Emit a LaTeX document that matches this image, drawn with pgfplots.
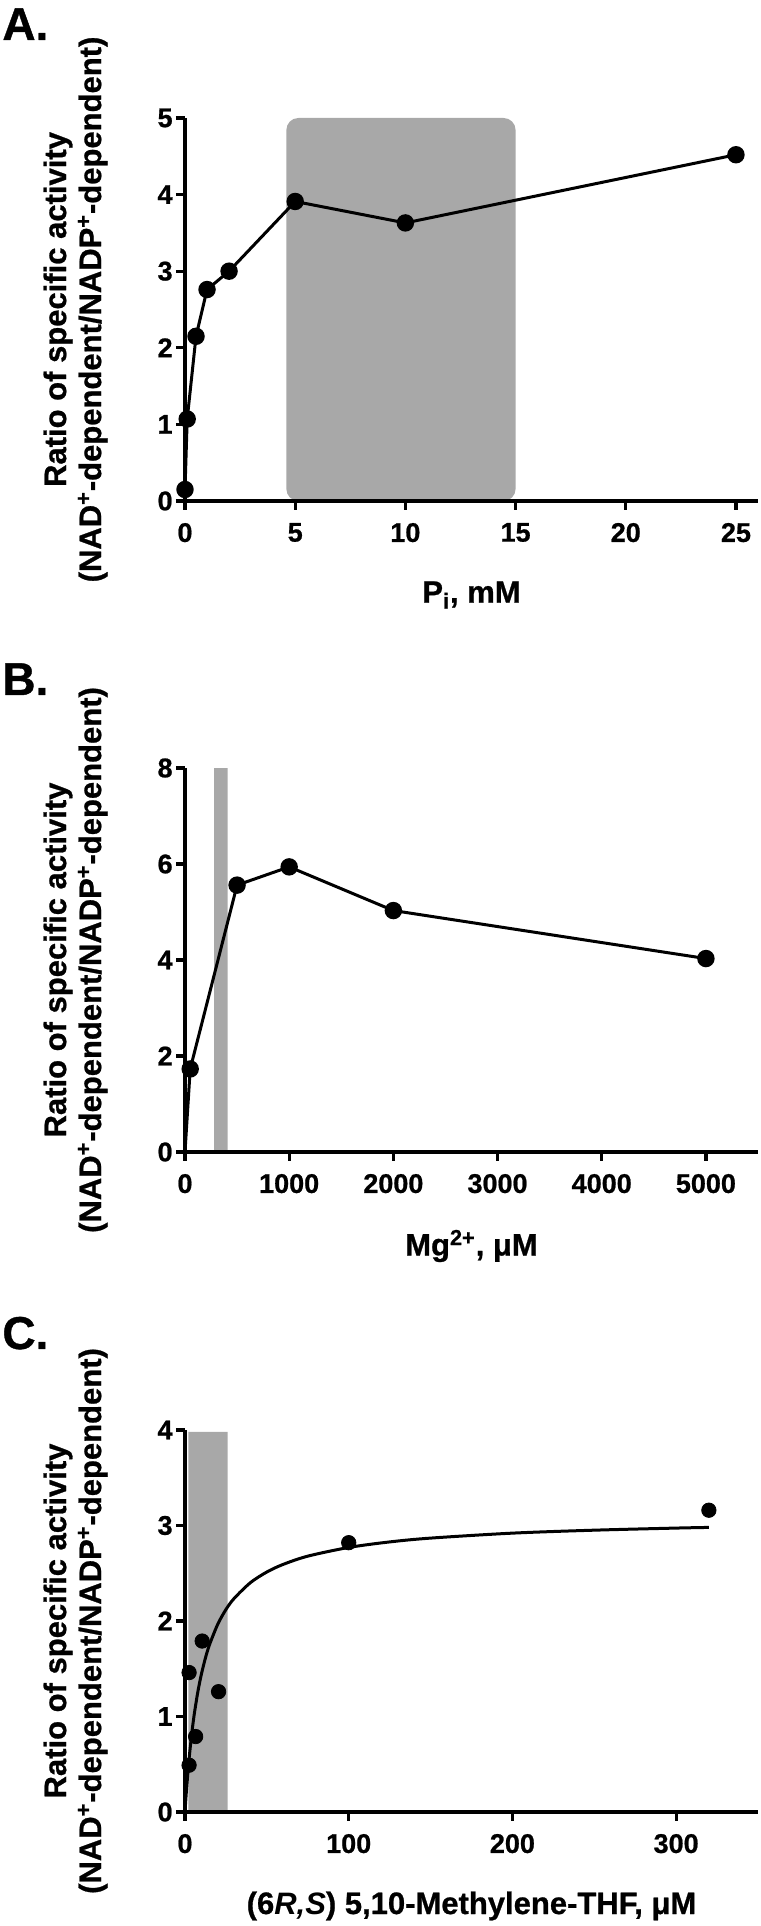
\documentclass[border=0pt]{standalone}
\usepackage{fontspec}
\setmainfont{Liberation Sans}[BoldFeatures={FakeBold=0.8}]
\usepackage{pgfplots}
\pgfplotsset{compat=1.18}
\definecolor{shade}{RGB}{168,168,168}
\pgfplotsset{
  panel/.style={
    scale only axis, width=286.5pt,
    axis x line*=bottom, axis y line*=left,
    axis line style={line width=1.6pt, black},
    tick style={line width=1.6pt, black},
    tick align=outside, major tick length=4.5pt,
    xmin=0, ymin=0,
    clip=false, axis on top,
    /pgf/number format/assume math mode=true,
    /pgf/number format/1000 sep={},
    scaled x ticks=false,
    tick label style={font=\fontsize{13.5}{13.5}\selectfont\bfseries},
    yticklabel style={inner xsep=1.5pt},
    xticklabel style={yshift=-3pt},
    every axis y label/.style={at={(axis description cs:-0.191,0.5)}, rotate=90, anchor=center, align=center, font=\fontsize{15.5}{17.5}\selectfont\bfseries},
    every axis x label/.style={at={(axis description cs:0.5,0)}, anchor=center, yshift=-47pt, font=\fontsize{15.5}{17.5}\selectfont\bfseries},
    ylabel={Ratio of specific activity\\(NAD\textsuperscript{+}-dependent/NADP\textsuperscript{+}-dependent)},
  },
  dataline/.style={black, line width=1.5pt, mark=*, mark size=3.6pt, mark options={solid, fill=black}},
}
\begin{document}
\begin{tikzpicture}
\path[use as bounding box] (0,0) rectangle (380pt,963pt);
% ---------- A ----------
\begin{axis}[panel, at={(92.5pt,712.5pt)}, anchor=south west, height=191.5pt,
  xmax=26, ymax=5, xtick={0,5,10,15,20,25}, ytick={0,1,2,3,4,5},
  xlabel={P\textsubscript{i}, mM}]
\addplot[draw=none, fill=shade, rounded corners=6pt] coordinates {(9.8,0) (4.6,0) (4.6,5) (15,5) (15,0) (9.8,0)};
\addplot[dataline] coordinates {(0,0.15) (0.1,1.07) (0.5,2.15) (1,2.76) (2,3.0) (5,3.91) (10,3.63) (25,4.52)};
\end{axis}
% ---------- B ----------
\begin{axis}[panel, at={(92.5pt,387pt)}, anchor=south west, height=192pt,
  xmax=5500, ymax=8, xtick={0,1000,2000,3000,4000,5000}, ytick={0,2,4,6,8},
  xlabel={Mg\textsuperscript{2+}, μM}]
\addplot[draw=none, fill=shade] coordinates {(280,0) (280,8) (410,8) (410,0)} \closedcycle;
\addplot[dataline, mark indices={2,3,4,5,6}] coordinates {(0,0) (50,1.73) (500,5.56) (1000,5.94) (2000,5.03) (5000,4.03)};
\end{axis}
% ---------- C ----------
\begin{axis}[panel, at={(92.5pt,57pt)}, anchor=south west, height=191pt,
  xmax=350, ymax=4, xtick={0,100,200,300}, ytick={0,1,2,3,4},
  xlabel={(6\textit{R,S}) 5,10-Methylene-THF, μM}]
\addplot[draw=none, fill=shade] coordinates {(2,0) (2,3.98) (26,3.98) (26,0)} \closedcycle;
\addplot[black, line width=1.5pt, smooth, no marks] coordinates {
  (0,0) (0.5,0.130) (1,0.249) (2,0.461) (3,0.643) (4,0.802) (5,0.941) (6,1.064)
  (8,1.273) (10,1.442) (12.5,1.614) (15,1.753) (20,1.966) (25,2.120) (30,2.236)
  (40,2.402) (50,2.513) (60,2.593) (75,2.679) (100,2.770) (125,2.828) (150,2.868)
  (200,2.920) (250,2.951) (300,2.973) (320,2.980)};
\addplot[only marks, mark=*, mark size=3.6pt, black] coordinates {
  (2.5,0.49) (2.5,1.46) (6.5,0.79) (10.5,1.79) (20.5,1.26) (100,2.82) (320,3.16)};
\end{axis}
\node[anchor=base west, inner sep=0pt, font=\fontsize{23}{23}\selectfont\bfseries] at (1pt,943pt) {A.};
\node[anchor=base west, inner sep=0pt, font=\fontsize{23}{23}\selectfont\bfseries] at (1pt,615.5pt) {B.};
\node[anchor=base west, inner sep=0pt, font=\fontsize{23}{23}\selectfont\bfseries] at (1pt,288.5pt) {C.};
\end{tikzpicture}
\end{document}
